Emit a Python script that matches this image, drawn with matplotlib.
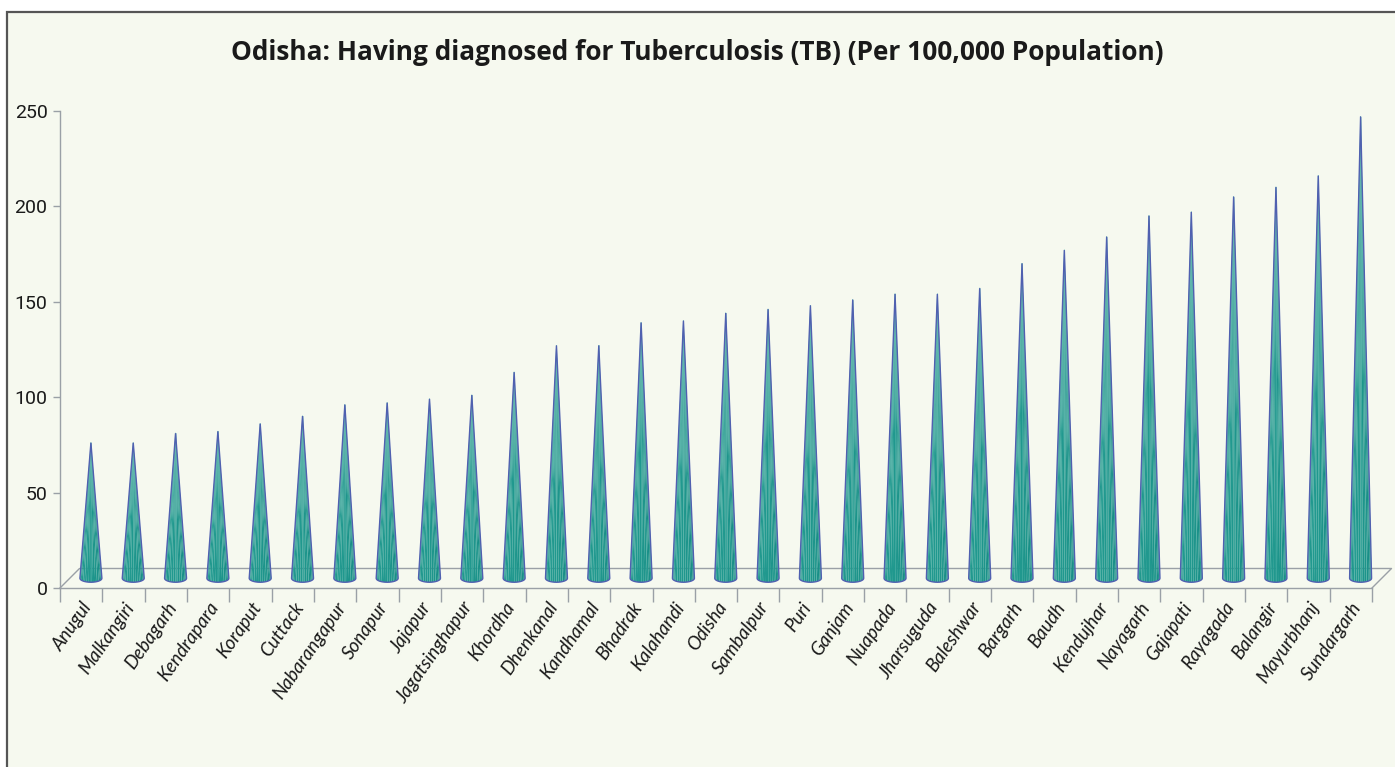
import numpy as np
import matplotlib.pyplot as plt
from matplotlib.patches import Rectangle, Polygon

districts = ["Anugul", "Malkangiri", "Debagarh", "Kendrapara", "Koraput", "Cuttack",
             "Nabarangapur", "Sonapur", "Jajapur", "Jagatsinghapur", "Khordha",
             "Dhenkanal", "Kandhamal", "Bhadrak", "Kalahandi", "Odisha", "Sambalpur",
             "Puri", "Ganjam", "Nuapada", "Jharsuguda", "Baleshwar", "Bargarh", "Baudh",
             "Kendujhar", "Nayagarh", "Gajapati", "Rayagada", "Balangir", "Mayurbhanj",
             "Sundargarh"]
tb_rate = [71, 71, 76, 77, 81, 85, 91, 92, 94, 96, 108, 122, 122, 134, 135, 139,
           141, 143, 146, 149, 149, 152, 165, 172, 179, 190, 192, 200, 205, 211, 242]
y_ticks = [0, 50, 100, 150, 200, 250]
title = "Odisha: Having diagnosed for Tuberculosis (TB) (Per 100,000 Population)"

W, H = 1395, 767
bg = "#F6F9EF"
grey = "#9AA0A6"

fig = plt.figure(figsize=(W / 100, H / 100), dpi=100)
fig.patch.set_facecolor("white")
fig.patches.append(Rectangle((7 / W, -0.05), 1.1, 1 - 12 / H + 0.05, transform=fig.transFigure,
                             facecolor=bg, edgecolor="#555555", lw=1.6, zorder=-10))

fig.text(0.5, 1 - 53 / H, title, ha="center", va="center", fontsize=18.9,
         fontweight="bold", family=["Open Sans", "DejaVu Sans"], color="#1a1a1a")

ax = fig.add_axes([60 / W, 179 / H, 1312 / W, 477 / H])
ax.set_facecolor("none")
n = len(districts)
ax.set_xlim(-0.5, n - 0.5)
ax.set_ylim(0, 250)

# 3D depth of the floor, in data units
px_x = 1312 / n
px_y = 477 / 250
dx = 19.5 / px_x
dy = 19.5 / px_y

# floor
ax.plot([-0.5, -0.5 + dx, n - 0.5 + dx, n - 0.5], [0, dy, dy, 0],
        color=grey, lw=1.0, clip_on=False, zorder=1)

# cones
rx = 11 / px_x
ry = 4 / px_y
phi = np.linspace(np.pi, 2 * np.pi, 17)
dark = np.array([0.05, 0.50, 0.48])
light = np.array([0.13, 0.60, 0.56])
for i, v in enumerate(tb_rate):
    cx = i + dx / 2
    base = dy / 2
    tip = (cx, base + v)
    xs = cx + rx * np.cos(phi)
    ys = base + ry * np.sin(phi)
    for j in range(len(phi) - 1):
        t = 0.5 + 0.5 * np.cos((phi[j] + phi[j + 1]) / 2 - 1.35 * np.pi)
        col = dark + (light - dark) * t
        ax.add_patch(Polygon([(xs[j], ys[j]), (xs[j + 1], ys[j + 1]), tip],
                             closed=True, facecolor=col, edgecolor="none", zorder=2,
                             clip_on=False))
    for j in range(2, len(phi) - 2, 3):
        ax.plot([xs[j], tip[0]], [ys[j], tip[1]], color="#62BDB2", lw=0.5, alpha=0.55,
                zorder=3, clip_on=False)
    outline = [tip] + list(zip(xs, ys))
    ax.add_patch(Polygon(outline, closed=True, facecolor="none", edgecolor="#5060B0",
                         lw=1.0, zorder=4, clip_on=False))

for s in ["top", "right"]:
    ax.spines[s].set_visible(False)
for s in ["left", "bottom"]:
    ax.spines[s].set_color(grey)
    ax.spines[s].set_linewidth(1.0)

ax.set_yticks(y_ticks)
ax.set_yticklabels([str(t) for t in y_ticks], family=["Roboto", "DejaVu Sans"],
                   fontsize=14, color="#1a1a1a")
ax.tick_params(axis="y", direction="out", length=5, width=1, color=grey, pad=4)

ax.set_xticks(np.arange(n))
ax.set_xticklabels(districts, rotation=55, ha="right", rotation_mode="anchor",
                   fontstyle="italic", family=["Lato", "DejaVu Sans"], fontsize=13.5,
                   color="#1a1a1a")
ax.tick_params(axis="x", which="major", length=0, pad=8)
ax.set_xticks(np.arange(n + 1) - 0.5, minor=True)
ax.tick_params(axis="x", which="minor", direction="out", length=10, width=1, color=grey)

fig.savefig("out.png", dpi=100, facecolor=fig.get_facecolor())
